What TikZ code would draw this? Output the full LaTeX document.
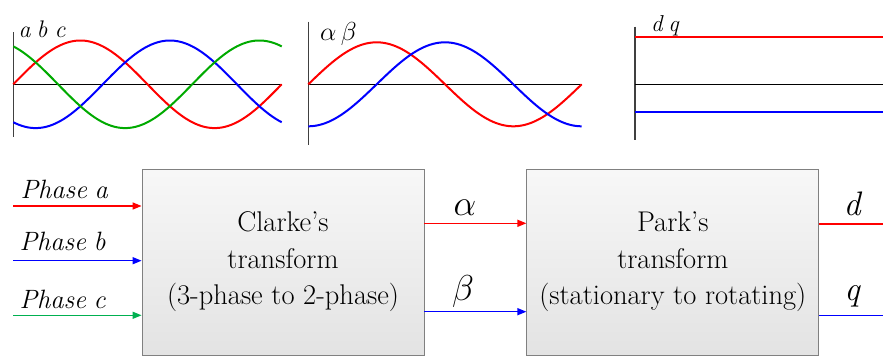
\RequirePackage{fix-cm}
\documentclass[tikz,border=0pt]{standalone}
\usetikzlibrary{arrows.meta,positioning,calc}
\definecolor{wgreen}{RGB}{0,170,0}
\definecolor{pgreen}{RGB}{0,176,80}

\begin{document}
\begin{tikzpicture}[
  x=1pt, y=-1pt,
  block/.style={draw=black!50, line width=0.8pt, top color=black!3, bottom color=black!11, align=center, minimum height=186pt, inner sep=0pt, font=\fontsize{28.5}{36.5}\selectfont},
  arr/.style={-{Triangle[length=9pt,width=7pt]}, line width=1.4pt},
  outl/.style={line width=1.4pt},
  inlbl/.style={anchor=base west, font=\fontsize{26.5}{30}\selectfont\itshape},
  sig/.style={anchor=base, font=\fontsize{36}{38}\selectfont\itshape},
  tag/.style={anchor=base west, inner sep=0pt, font=\fontsize{24}{26}\selectfont\itshape},
  wave/.style={line width=2pt},
  vaxis/.style={draw=black!75, line width=1.3pt},
  haxis/.style={line width=1pt}
]
\useasboundingbox (0,0) rectangle (883,356);

\draw[vaxis] (13.3,32) -- (13.3,137);
\draw[haxis] (13.3,84.3) -- (281.7,84.3);
\draw[wave,red] plot[domain=0:360,samples=91,smooth] ({13.3+\x/360*268.4},{84.3-43.8*sin(\x)});
\draw[wave,blue] plot[domain=0:360,samples=91,smooth] ({13.3+\x/360*268.4},{84.3-43.8*sin(\x-120)});
\draw[wave,wgreen] plot[domain=0:360,samples=91,smooth] ({13.3+\x/360*268.4},{84.3-43.8*sin(\x+120)});
\node[tag] (abc) at (18.5,37.7) {a\hspace{0.25em}b\hspace{0.3em}c};

\draw[vaxis] (308.3,21.7) -- (308.3,145);
\draw[haxis] (308.3,84.3) -- (581.7,84.3);
\draw[wave,red] plot[domain=0:360,samples=91,smooth] ({308.3+\x/360*273.4},{84.3-42*sin(\x)});
\draw[wave,blue] plot[domain=0:360,samples=91,smooth] ({308.3+\x/360*273.4},{84.3-42*sin(\x-90)});
\node[tag, font=\fontsize{26}{28}\selectfont] (ab) at (320,40.7) {$\alpha\,\beta$};

\draw[vaxis] (635,26.7) -- (635,140);
\draw[haxis] (635,84.3) -- (883,84.3);
\draw[red, line width=2.3pt] (635,37.3) -- (883,37.3);
\draw[blue, line width=2.3pt] (635,111.7) -- (883,111.7);
\node[tag, font=\fontsize{23}{25}\selectfont\itshape] (dq) at (651,31) {d\hspace{0.25em}q};

\node[block, minimum width=282pt] (clarke) at (283,262) {Clarke's\\transform\\(3-phase to 2-phase)};
\node[block, minimum width=292pt] (park) at (672.8,262) {Park's\\transform\\(stationary to rotating)};

\coordinate (ina) at (13,206);
\coordinate (inb) at (13,260.7);
\coordinate (inc) at (13,315.3);
\node[inlbl] (pha) at (17,198.3) {Phase\hspace{0.28em}a};
\node[inlbl] (phb) at (16,250) {Phase\hspace{0.28em}b};
\node[inlbl] (phc) at (16,308) {Phase\hspace{0.28em}c};
\draw[arr, red] (ina) -- (ina -| clarke.west);
\draw[arr, blue] (inb) -- (inb -| clarke.west);
\draw[arr, pgreen] (inc) -- (inc -| clarke.west);

\draw[arr, red] ([yshift=38.7pt]clarke.east) -- ([yshift=38.7pt]park.west);
\draw[arr, blue] ([yshift=-49.7pt]clarke.east) -- ([yshift=-49.7pt]park.west);
\node[sig] (alab) at (465,215) {$\alpha$};
\node[sig] (blab) at (463,300) {$\beta$};

\coordinate (outd) at (883,224);
\coordinate (outq) at (883,315.3);
\draw[outl, red] (park.east |- outd) -- (outd);
\draw[outl, blue] (park.east |- outq) -- (outq);
\node[sig, font=\fontsize{34}{36}\selectfont\itshape] (dlab) at (852,215) {d};
\node[sig, font=\fontsize{34}{36}\selectfont\itshape] (qlab) at (852,300) {q};
\end{tikzpicture}
\end{document}
